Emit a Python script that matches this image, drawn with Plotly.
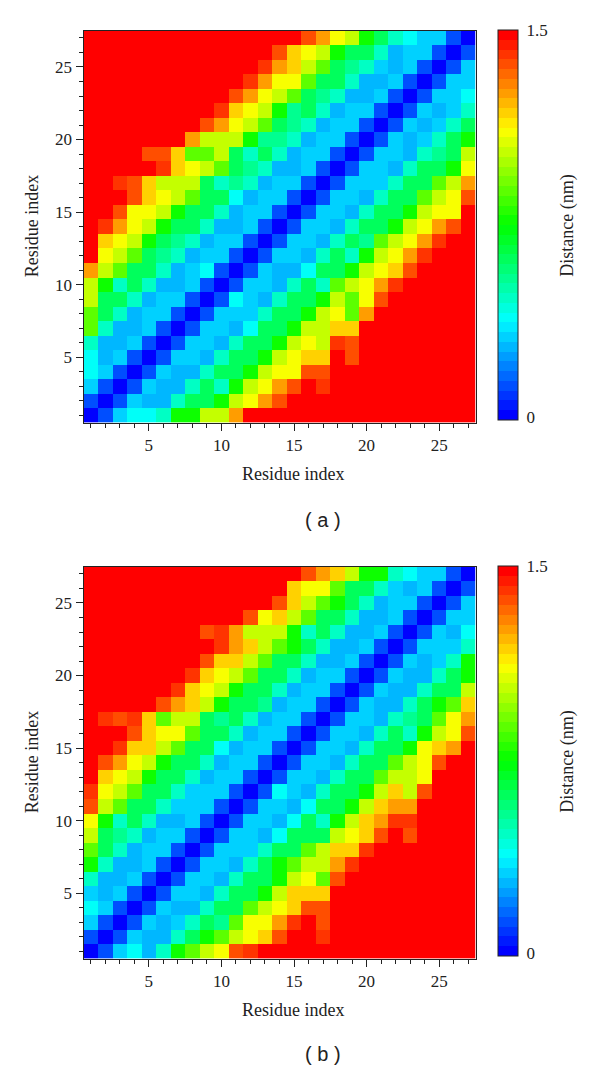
import plotly.graph_objects as go

W, H = 600, 1072
residues = list(range(1, 28))
x_ticks = [5, 10, 15, 20, 25]
bar_ticks = [0.012, 1.5]
bar_labels = ["0", "1.5"]

# Distances in nm, first row = residue 1 (bottom of the map)
dist_a = [
[.02,.15,.33,.38,.38,.47,.75,.75,1.03,1.03,1.27,1.5,1.5,1.5,1.5,1.5,1.5,1.5,1.5,1.5,1.5,1.5,1.5,1.5,1.5,1.5,1.5],
[.15,.02,.15,.33,.27,.27,.47,.62,.62,.75,1.03,1.12,1.27,1.35,1.5,1.5,1.5,1.5,1.5,1.5,1.5,1.5,1.5,1.5,1.5,1.5,1.5],
[.33,.15,.02,.15,.33,.27,.27,.47,.62,.47,.75,1.03,1.12,1.27,1.35,1.5,1.42,1.5,1.5,1.5,1.5,1.5,1.5,1.5,1.5,1.5,1.5],
[.38,.33,.15,.02,.15,.33,.27,.27,.47,.62,.62,.75,1.03,1.12,1.12,1.35,1.35,1.5,1.5,1.5,1.5,1.5,1.5,1.5,1.5,1.5,1.5],
[.38,.27,.33,.15,.02,.15,.33,.33,.27,.47,.62,.62,.75,1.03,1.12,1.17,1.17,1.5,1.35,1.5,1.5,1.5,1.5,1.5,1.5,1.5,1.5],
[.47,.27,.27,.33,.15,.02,.15,.33,.33,.27,.47,.62,.62,.75,1.03,1.12,1.03,1.42,1.35,1.5,1.5,1.5,1.5,1.5,1.5,1.5,1.5],
[.88,.47,.27,.27,.33,.15,.02,.15,.33,.33,.27,.38,.62,.62,.75,1.03,1.03,1.17,1.17,1.5,1.5,1.5,1.5,1.5,1.5,1.5,1.5],
[.88,.62,.47,.27,.33,.33,.15,.02,.15,.33,.33,.33,.47,.62,.62,.75,1.03,1.12,.88,1.27,1.5,1.5,1.5,1.5,1.5,1.5,1.5],
[1.03,.62,.62,.47,.27,.33,.33,.15,.02,.15,.38,.33,.27,.47,.62,.62,.75,1.03,.88,1.12,1.35,1.5,1.5,1.5,1.5,1.5,1.5],
[1.03,.75,.47,.62,.47,.27,.27,.33,.15,.02,.15,.33,.33,.27,.47,.62,.47,.88,1.03,1.12,1.27,1.42,1.5,1.5,1.5,1.5,1.5],
[1.27,1.03,.88,.62,.62,.47,.27,.33,.38,.15,.02,.15,.33,.27,.27,.38,.62,.62,.75,1.03,1.12,1.17,1.35,1.5,1.5,1.5,1.5],
[1.5,1.12,1.03,.88,.62,.55,.47,.27,.33,.33,.15,.02,.15,.33,.33,.27,.47,.62,.47,.75,1.03,1.12,1.27,1.42,1.5,1.5,1.5],
[1.5,1.17,1.12,1.03,.75,.62,.55,.47,.27,.33,.33,.15,.02,.15,.33,.33,.27,.47,.62,.55,.88,1.03,1.12,1.27,1.42,1.5,1.5],
[1.5,1.42,1.27,1.12,1.03,.75,.62,.62,.47,.27,.27,.33,.15,.02,.15,.33,.33,.27,.47,.62,.62,.75,1.03,1.12,1.27,1.35,1.5],
[1.5,1.5,1.35,1.12,1.12,1.03,.75,.62,.62,.47,.27,.33,.33,.15,.02,.15,.33,.33,.27,.47,.62,.62,.75,1.03,1.12,1.12,1.5],
[1.5,1.5,1.5,1.35,1.17,1.12,1.03,.88,.62,.62,.38,.27,.33,.33,.15,.02,.15,.33,.33,.27,.47,.62,.62,.88,1.03,1.12,1.35],
[1.5,1.5,1.42,1.35,1.17,1.03,1.03,1.03,.62,.47,.55,.47,.27,.33,.33,.15,.02,.15,.33,.33,.33,.47,.62,.62,.88,1.03,1.27],
[1.5,1.5,1.5,1.5,1.5,1.42,1.17,1.12,1.03,.88,.62,.55,.47,.27,.27,.33,.15,.02,.15,.33,.33,.27,.47,.62,.62,.75,1.12],
[1.5,1.5,1.5,1.5,1.35,1.35,1.17,.88,.88,1.03,.62,.47,.62,.47,.27,.33,.33,.15,.02,.15,.33,.33,.27,.47,.55,.62,1.03],
[1.5,1.5,1.5,1.5,1.5,1.5,1.5,1.27,1.03,1.03,1.03,.75,.55,.55,.47,.27,.33,.33,.15,.02,.15,.33,.27,.33,.47,.62,.75],
[1.5,1.5,1.5,1.5,1.5,1.5,1.5,1.5,1.35,1.27,1.12,1.03,.88,.62,.55,.47,.27,.33,.33,.15,.02,.15,.33,.27,.33,.47,.62],
[1.5,1.5,1.5,1.5,1.5,1.5,1.5,1.5,1.5,1.42,1.17,1.12,1.03,.75,.55,.62,.47,.27,.33,.33,.15,.02,.15,.33,.27,.33,.47],
[1.5,1.5,1.5,1.5,1.5,1.5,1.5,1.5,1.5,1.5,1.35,1.27,1.12,1.03,.88,.62,.55,.47,.27,.27,.33,.15,.02,.15,.33,.33,.38],
[1.5,1.5,1.5,1.5,1.5,1.5,1.5,1.5,1.5,1.5,1.5,1.42,1.27,1.12,1.12,.88,.62,.62,.47,.27,.27,.33,.15,.02,.15,.33,.33],
[1.5,1.5,1.5,1.5,1.5,1.5,1.5,1.5,1.5,1.5,1.5,1.5,1.42,1.27,1.17,1.03,.88,.62,.55,.47,.33,.27,.33,.15,.02,.15,.33],
[1.5,1.5,1.5,1.5,1.5,1.5,1.5,1.5,1.5,1.5,1.5,1.5,1.5,1.35,1.17,1.12,1.03,.75,.62,.62,.47,.27,.33,.33,.15,.02,.15],
[1.5,1.5,1.5,1.5,1.5,1.5,1.5,1.5,1.5,1.5,1.5,1.5,1.5,1.5,1.5,1.35,1.27,1.12,1.03,.75,.62,.47,.38,.33,.33,.15,.02],
]

dist_b = [
[.02,.15,.33,.38,.27,.47,.75,.88,1.03,1.12,1.35,1.42,1.5,1.5,1.5,1.5,1.5,1.5,1.5,1.5,1.5,1.5,1.5,1.5,1.5,1.5,1.5],
[.15,.02,.15,.33,.27,.27,.47,.62,.75,.88,1.03,1.12,1.17,1.35,1.5,1.5,1.42,1.5,1.5,1.5,1.5,1.5,1.5,1.5,1.5,1.5,1.5],
[.33,.15,.02,.15,.33,.27,.33,.47,.62,.55,.88,1.12,1.12,1.27,1.42,1.5,1.35,1.5,1.5,1.5,1.5,1.5,1.5,1.5,1.5,1.5,1.5],
[.38,.33,.15,.02,.15,.33,.27,.27,.47,.62,.62,.88,1.03,1.12,1.17,1.35,1.35,1.5,1.5,1.5,1.5,1.5,1.5,1.5,1.5,1.5,1.5],
[.33,.27,.33,.15,.02,.15,.33,.33,.27,.47,.62,.62,.75,1.03,1.17,1.17,1.17,1.5,1.5,1.5,1.5,1.5,1.5,1.5,1.5,1.5,1.5],
[.47,.27,.27,.33,.15,.02,.15,.33,.33,.27,.47,.62,.62,.75,1.03,1.12,.88,1.35,1.5,1.5,1.5,1.5,1.5,1.5,1.5,1.5,1.5],
[.75,.47,.27,.27,.33,.15,.02,.15,.33,.33,.27,.47,.62,.75,.88,1.03,1.03,1.27,1.42,1.5,1.5,1.5,1.5,1.5,1.5,1.5,1.5],
[.88,.62,.47,.27,.33,.33,.15,.02,.15,.33,.33,.33,.47,.62,.62,.88,1.03,1.17,1.17,1.42,1.5,1.5,1.5,1.5,1.5,1.5,1.5],
[1.03,.62,.55,.47,.27,.33,.33,.15,.02,.15,.33,.33,.27,.38,.62,.62,.62,1.03,1.12,1.17,1.35,1.5,1.35,1.5,1.5,1.5,1.5],
[1.12,.75,.47,.62,.47,.27,.27,.33,.15,.02,.15,.33,.33,.27,.38,.62,.47,.75,1.03,1.17,1.27,1.42,1.42,1.5,1.5,1.5,1.5],
[1.35,1.03,.88,.62,.62,.47,.33,.33,.33,.15,.02,.15,.33,.33,.27,.38,.62,.62,.75,1.03,1.17,1.27,1.27,1.5,1.5,1.5,1.5],
[1.42,1.12,1.03,.88,.62,.62,.47,.33,.33,.33,.15,.02,.15,.38,.33,.27,.47,.62,.62,.75,1.03,1.17,1.03,1.35,1.5,1.5,1.5],
[1.5,1.17,1.12,1.03,.75,.62,.62,.47,.27,.33,.33,.15,.02,.15,.33,.33,.27,.47,.62,.62,.88,1.03,1.03,1.12,1.5,1.5,1.5],
[1.5,1.35,1.27,1.12,1.03,.75,.62,.62,.47,.27,.33,.33,.15,.02,.15,.33,.33,.27,.47,.62,.62,.88,1.03,1.12,1.35,1.5,1.5],
[1.5,1.5,1.42,1.17,1.17,1.03,.88,.62,.62,.38,.27,.33,.33,.15,.02,.15,.33,.33,.27,.47,.62,.62,.75,1.12,1.17,1.27,1.5],
[1.5,1.5,1.5,1.35,1.17,1.12,1.12,.88,.62,.62,.47,.27,.33,.33,.15,.02,.15,.33,.33,.27,.47,.62,.47,.75,1.03,1.12,1.35],
[1.5,1.42,1.35,1.42,1.17,.88,1.03,1.03,.62,.55,.62,.47,.27,.33,.33,.15,.02,.15,.33,.33,.27,.47,.55,.62,.88,1.12,1.27],
[1.5,1.5,1.5,1.5,1.5,1.35,1.27,1.17,1.03,.75,.62,.62,.55,.27,.33,.33,.15,.02,.15,.33,.27,.27,.47,.62,.75,.88,1.17],
[1.5,1.5,1.5,1.5,1.5,1.5,1.42,1.17,1.12,1.03,.75,.62,.62,.47,.27,.33,.33,.15,.02,.15,.33,.27,.27,.47,.62,.62,1.03],
[1.5,1.5,1.5,1.5,1.5,1.5,1.5,1.42,1.17,1.12,1.03,.88,.62,.62,.47,.27,.33,.33,.15,.02,.15,.33,.27,.27,.47,.62,.75],
[1.5,1.5,1.5,1.5,1.5,1.5,1.5,1.5,1.35,1.17,1.17,1.03,.88,.62,.62,.47,.27,.27,.33,.15,.02,.15,.33,.27,.33,.47,.75],
[1.5,1.5,1.5,1.5,1.5,1.5,1.5,1.5,1.5,1.42,1.27,1.17,1.03,.88,.75,.62,.47,.27,.27,.33,.15,.02,.15,.33,.33,.33,.47],
[1.5,1.5,1.5,1.5,1.5,1.5,1.5,1.5,1.35,1.42,1.27,1.03,1.03,1.03,.75,.47,.62,.47,.27,.27,.33,.15,.02,.15,.33,.27,.38],
[1.5,1.5,1.5,1.5,1.5,1.5,1.5,1.5,1.5,1.5,1.5,1.35,1.12,1.17,1.03,.88,.62,.62,.47,.27,.27,.33,.15,.02,.15,.33,.33],
[1.5,1.5,1.5,1.5,1.5,1.5,1.5,1.5,1.5,1.5,1.5,1.5,1.5,1.35,1.17,1.03,.88,.75,.62,.47,.27,.33,.33,.15,.02,.15,.33],
[1.5,1.5,1.5,1.5,1.5,1.5,1.5,1.5,1.5,1.5,1.5,1.5,1.5,1.5,1.17,1.12,1.12,.88,.62,.62,.47,.33,.27,.33,.15,.02,.15],
[1.5,1.5,1.5,1.5,1.5,1.5,1.5,1.5,1.5,1.5,1.5,1.5,1.5,1.5,1.5,1.35,1.27,1.17,1.03,.75,.75,.47,.38,.33,.33,.15,.02],
]

# 40-band rainbow scale
stops = [(0, (0, 0, 255)), (.25, (0, 255, 255)), (.5, (0, 255, 0)), (.75, (255, 255, 0)), (1, (255, 0, 0))]
def ramp(f):
    for (a, ca), (b, cb) in zip(stops, stops[1:]):
        if f <= b:
            t = (f - a) / (b - a)
            return "rgb(%d,%d,%d)" % tuple(round(p + (q - p) * t) for p, q in zip(ca, cb))
N = 40
scale = []
for i in range(N):
    c = ramp(i / (N - 1))
    scale += [[i / N, c], [(i + 1) / N, c]]

SERIF = "Liberation Serif"
DARK = "#222"

def label(fig, px, py, text, angle=0, family=SERIF, size=18):
    fig.add_annotation(x=px / W, y=1 - py / H, xref="paper", yref="paper", text=text, textangle=angle,
                       showarrow=False, xanchor="center", yanchor="middle",
                       font=dict(family=family, size=size, color=DARK))

fig = go.Figure()
panels = [("", "", dist_a, 30.7, 422.5, 30, 420), ("2", "2", dist_b, 566.7, 958.5, 566, 956)]
for xs, ys, z, top, bot, btop, bbot in panels:
    fig.add_trace(go.Heatmap(
        x=residues, y=residues, z=z, xaxis="x" + xs, yaxis="y" + ys,
        zmin=0, zmax=1.5, colorscale=scale,
        colorbar=dict(x=497.5 / W, xanchor="left", y=1 - btop / H, yanchor="top",
                      len=(bbot - btop) / H, lenmode="fraction", thickness=20, thicknessmode="pixels",
                      xpad=0, ypad=0, outlinecolor=DARK, outlinewidth=1,
                      tickmode="array", tickvals=bar_ticks, ticktext=bar_labels,
                      ticks="outside", ticklen=5, tickcolor="rgba(0,0,0,0)",
                      tickfont=dict(family=SERIF, size=17, color=DARK)),
    ))
    common = dict(range=[0.5, 27.5], tickmode="array", tickvals=x_ticks, ticks="outside", ticklen=7,
                  tickcolor=DARK, tickwidth=1, showline=True, linecolor=DARK, linewidth=1, mirror=True,
                  showgrid=False, zeroline=False, tickfont=dict(family=SERIF, size=17, color=DARK),
                  minor=dict(tickmode="array", tickvals=residues, ticks="outside", ticklen=4,
                             tickcolor=DARK, tickwidth=1, showgrid=False))
    fig.update_layout({
        "xaxis" + xs: dict(common, domain=[83.5 / W, 475.5 / W], anchor="y" + ys),
        "yaxis" + ys: dict(common, domain=[1 - bot / H, 1 - top / H], anchor="x" + xs),
    })
    label(fig, 293, bot + 51.5, "Residue index")
    label(fig, 32, top + 195.5, "Residue index", angle=-90)
    label(fig, 568, top + 195, "Distance (nm)", angle=-90)

label(fig, 323, 520, "( a )", family="Liberation Sans", size=20)
label(fig, 323, 1054, "( b )", family="Liberation Sans", size=20)

fig.update_layout(width=W, height=H, margin=dict(l=0, r=0, t=0, b=0), paper_bgcolor="white",
                  plot_bgcolor="white", showlegend=False)
fig.write_html("out.html", post_script="document.body.style.margin='0';",
               config={"displayModeBar": False})
